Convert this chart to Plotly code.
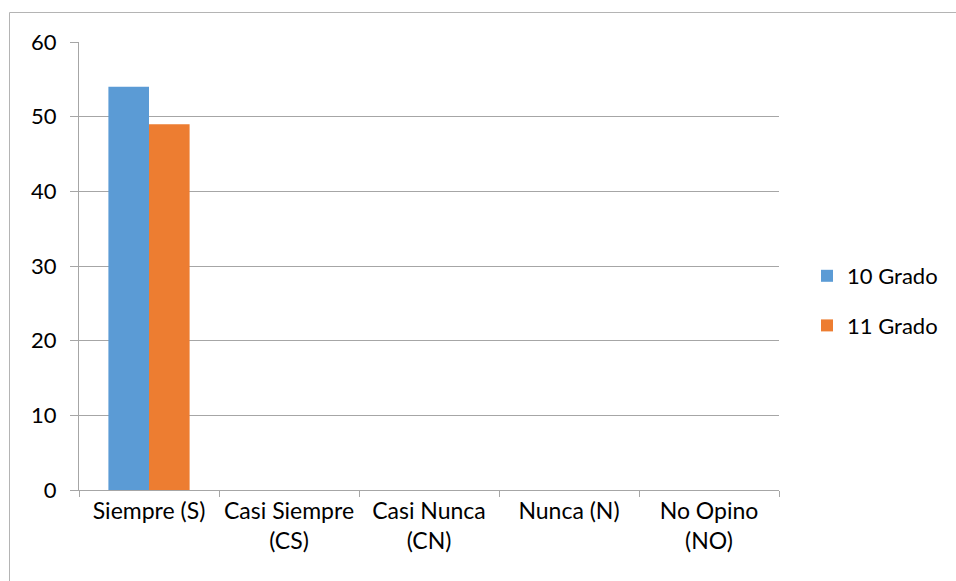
import plotly.graph_objects as go

categories = ["Siempre (S)", "Casi Siempre<br>(CS)", "Casi Nunca<br>(CN)", "Nunca (N)", "No Opino<br>(NO)"]
grado10 = [54, 0, 0, 0, 0]
grado11 = [49, 0, 0, 0, 0]
y_ticks = [0, 10, 20, 30, 40, 50, 60]

W, H = 956, 581
L, R, T, B = 79, 177, 42, 91
pw, ph = W - L - R, H - T - B

fig = go.Figure()
fig.add_trace(go.Bar(x=categories, y=grado10, name="10 Grado", marker_color="#5B9BD5",
                     marker_line_width=0, legendgroup="a"))
fig.add_trace(go.Bar(x=categories, y=grado11, name="11 Grado", marker_color="#ED7D31",
                     marker_line_width=0, legendgroup="b"))

font = "Lato"
fig.update_layout(
    width=W, height=H,
    margin=dict(l=L, r=R, t=T, b=B, autoexpand=False),
    paper_bgcolor="white", plot_bgcolor="white",
    barmode="group", bargap=0.42, bargroupgap=0,
    font=dict(family=font, size=22, color="#000000"),
    legend=dict(x=(807 - L) / pw, y=(H - B - 301) / ph, xanchor="left", yanchor="middle",
                tracegroupgap=18, font=dict(size=22), itemwidth=30),
    showlegend=True,
    xaxis=dict(type="category", showgrid=False, showline=True, linecolor="#a6a6a6",
               ticks="outside", tickson="boundaries", ticklen=6, tickcolor="#a6a6a6",
               tickfont=dict(size=23), range=[-0.5, 4.5]),
    yaxis=dict(range=[0, 60], tickvals=y_ticks, showgrid=True, gridcolor="#a6a6a6",
               gridwidth=1, showline=True, linecolor="#a6a6a6", ticks="outside",
               ticklen=8, tickcolor="#a6a6a6", tickfont=dict(size=22), zeroline=False,
               ticklabelstandoff=9),
    shapes=[dict(type="rect", xref="paper", yref="paper",
                 x0=(9.5 - L) / pw, x1=(W + 20 - L) / pw,
                 y0=-(B + 20) / ph, y1=(H - B - 12.5) / ph,
                 line=dict(color="#b4b4b4", width=1), fillcolor="rgba(0,0,0,0)")],
)
fig.write_html("out.html", config={"displayModeBar": False},
               post_script="document.body.style.margin='0';")
